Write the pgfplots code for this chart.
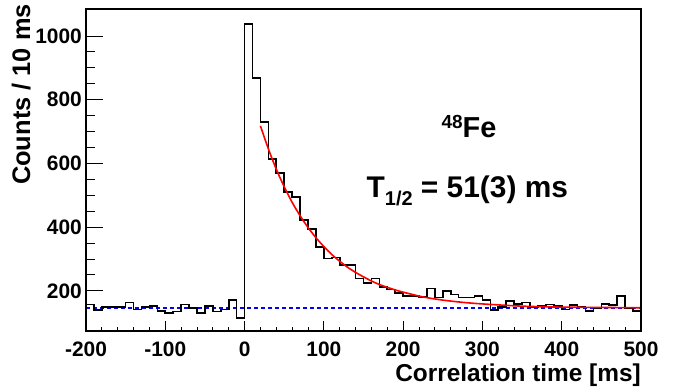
\documentclass[border=0pt]{standalone}
\usepackage{fontspec}
\setmainfont{Liberation Sans}
\usepackage{pgfplots}
\pgfplotsset{compat=1.18}
\begin{document}
\begin{tikzpicture}
\useasboundingbox (0,0) rectangle (675bp,390bp);
\begin{axis}[name=ax, at={(86bp,59bp)}, anchor=south west, scale only axis,
  width=555bp, height=322bp,
  xmin=-200, xmax=500, ymin=74, ymax=1085,
  xtick={-200,-100,...,500}, minor x tick num=4, ytick=\empty,
  tick align=inside, xtick pos=bottom,
  major tick length=9.5bp, minor tick length=4bp,
  tick style={black, line width=1bp},
  axis line style={line width=2.2bp},
  /pgf/number format/assume math mode=true,
  /pgf/number format/1000 sep={},
  ticklabel style={font=\fontsize{21}{25}\selectfont\bfseries},
  xticklabel style={inner sep=0pt, yshift=-10.7bp},
  clip=false]
\addplot[blue, line width=1.8bp, dash pattern=on 3.5bp off 3.5bp] coordinates {(-200,145) (500,145)};
\addplot[const plot, black, line width=1.6bp] coordinates {
(-200,157) (-190,139) (-180,150) (-170,150) (-160,150) (-150,164) (-140,141) (-130,150)
(-120,153) (-110,136) (-100,130) (-90,135) (-80,157) (-70,147) (-60,130) (-50,152)
(-40,135) (-30,141) (-20,171) (-10,115) (0,1037) (10,869) (20,731) (30,614) (40,570)
(50,511) (60,495) (70,422) (80,395) (90,338) (100,302) (110,305) (120,281) (130,281)
(140,239) (150,225) (160,239) (170,213) (180,204) (190,194) (200,184) (210,184)
(220,181) (230,207) (240,179) (250,199) (260,188) (270,179) (280,179) (290,184)
(300,171) (310,139) (320,150) (330,169) (340,158) (350,163) (360,148) (370,153)
(380,157) (390,152) (400,142) (410,155) (420,150) (430,136) (440,145) (450,159)
(460,155) (470,184) (480,145) (490,136) (500,136)};
\addplot[red, line width=1.6bp, smooth] coordinates {
(20,718) (30,646) (40,582) (50,527) (60,478) (70,436) (80,399) (90,367) (100,339)
(110,314) (120,293) (130,274) (140,258) (150,244) (160,231) (170,220) (180,211)
(190,203) (200,196) (225,181) (250,171) (275,164) (300,159) (350,152) (400,149)
(450,148) (500,147)};
\node[anchor=base, font=\fontsize{29}{31}\selectfont\bfseries] at (axis cs:283,683)
  {\raisebox{9bp}{\fontsize{19}{19}\selectfont 48}Fe};
\node[anchor=base, font=\fontsize{30}{32}\selectfont\bfseries] at (axis cs:281,494)
  {T\raisebox{-8bp}{\fontsize{20}{20}\selectfont 1/2} = 51(3) ms};
\node[anchor=base east, inner sep=0pt, font=\fontsize{24.5}{28}\selectfont\bfseries] at ([yshift=-50bp]rel axis cs:1,0)
  {Correlation time [ms]};
\end{axis}
\begin{axis}[at={(86bp,59bp)}, anchor=south west, scale only axis,
  width=555bp, height=322bp,
  xmin=-200, xmax=500, ymin=74, ymax=1085,
  xtick=\empty, ytick={200,400,...,1000}, minor y tick num=3,
  tick align=inside, ytick pos=left,
  major tick length=17bp, minor tick length=9bp,
  tick style={black, line width=1bp},
  axis line style={line width=2.2bp},
  /pgf/number format/assume math mode=true,
  /pgf/number format/1000 sep={},
  ticklabel style={font=\fontsize{21}{25}\selectfont\bfseries},
  yticklabel style={inner sep=0pt, xshift=-4bp},
  clip=false]
\node[rotate=90, anchor=base east, inner sep=0pt, font=\fontsize{25.5}{29}\selectfont\bfseries]
  at ([xshift=-56bp,yshift=5bp]rel axis cs:0,1) {Counts / 10 ms};
\end{axis}
\end{tikzpicture}
\end{document}
